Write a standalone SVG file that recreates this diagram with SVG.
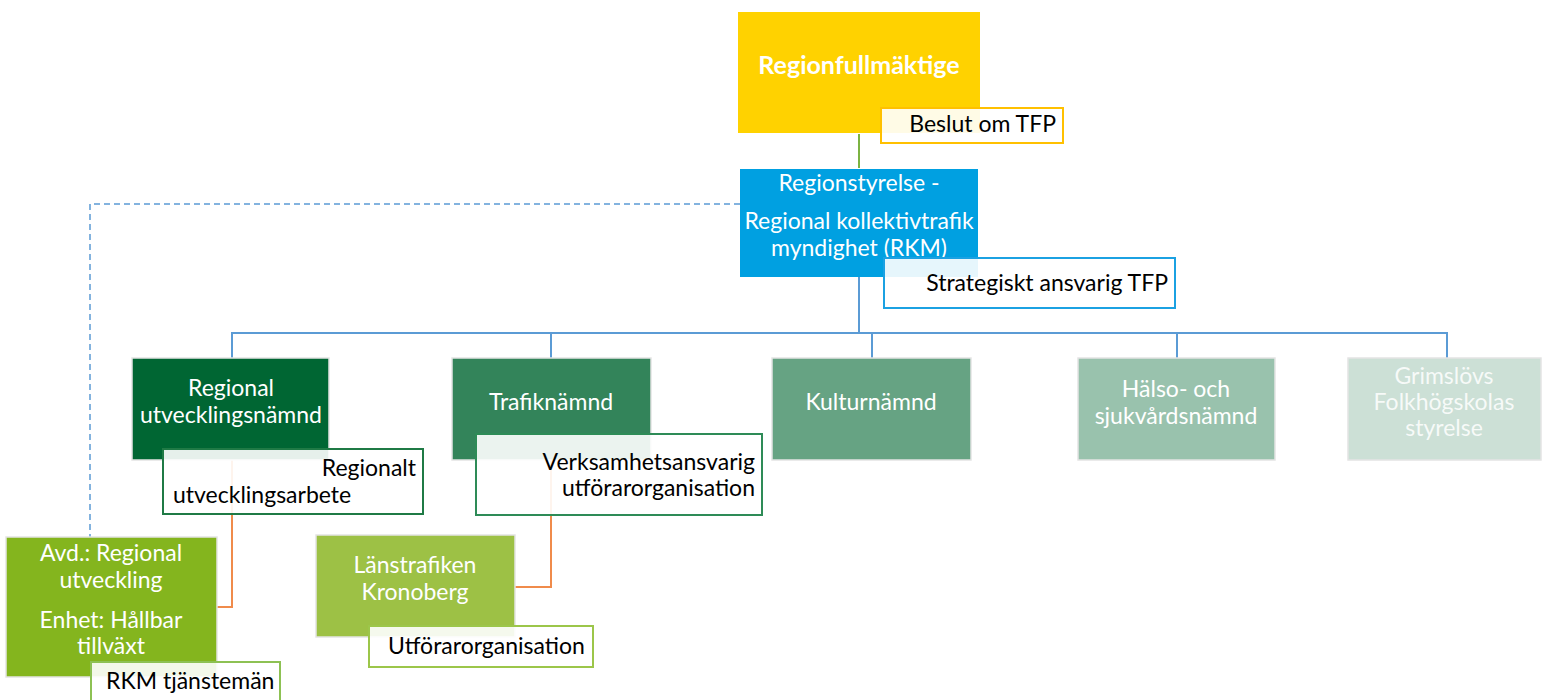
<svg xmlns="http://www.w3.org/2000/svg" width="1547" height="700" viewBox="0 0 1547 700">
<style>
text{font-family:Lato,"Open Sans","DejaVu Sans",sans-serif;font-size:23px}
.w{fill:#ffffff;text-anchor:middle}
.k{fill:#000000}
.r{text-anchor:end}
.node{stroke:#e4e4e4;stroke-width:1.5}
.sub{fill:#ffffff;fill-opacity:0.9;stroke-width:2}
.con{fill:none;stroke:#5b9bd5;stroke-width:2}
.or{fill:none;stroke:#f08b4b;stroke-width:2}
</style>
<rect width="1547" height="700" fill="#ffffff"/>
<g id="connectors">
<line x1="859" y1="134" x2="859" y2="168" stroke="#7cb342" stroke-width="2"/>
<path class="con" d="M859 277 V333 M232 358 V333 H1447 V358 M551 333 V358 M872 333 V358 M1177 333 V358"/>
<path d="M740 204 H90 V537" fill="none" stroke="#5b9bd5" stroke-width="1.5" stroke-dasharray="6 4"/>
<path class="or" d="M232 460 V607 H217"/>
<path class="or" d="M551 460 V587 H515"/>
</g>
<g id="regionfullmaktige">
<rect x="738" y="12" width="242" height="121" fill="#ffd200"/>
<text class="w" x="859" y="74" style="font-weight:bold;font-size:25px">Regionfullmäktige</text>
<rect class="sub" x="881" y="108" width="182" height="35" stroke="#ffc000"/>
<text class="k r" x="1056" y="132">Beslut om TFP</text>
</g>
<g id="regionstyrelse">
<rect x="740" y="169" width="238" height="108" fill="#00a0e1"/>
<text class="w" x="859" y="191">Regionstyrelse -</text>
<text class="w" x="859" y="229">Regional kollektivtrafik</text>
<text class="w" x="859" y="256">myndighet (RKM)</text>
<rect class="sub" x="884" y="258" width="291" height="50" stroke="#1ba1e2"/>
<text class="k r" x="1168" y="291">Strategiskt ansvarig TFP</text>
</g>
<g id="regional-utvecklingsnamnd">
<rect class="node" x="132" y="358" width="197" height="102" fill="#006633"/>
<text class="w" x="231" y="396">Regional</text>
<text class="w" x="231" y="423">utvecklingsnämnd</text>
<rect class="sub" x="163" y="449" width="260" height="65" stroke="#1f7a45"/>
<text class="k r" x="416" y="476">Regionalt</text>
<text class="k" x="173" y="503">utvecklingsarbete</text>
</g>
<g id="trafiknamnd">
<rect class="node" x="452" y="358" width="199" height="102" fill="#33845a"/>
<text class="w" x="551" y="410">Trafiknämnd</text>
<rect class="sub" x="476" y="434" width="286" height="81" stroke="#2e8b57"/>
<text class="k r" x="755" y="470">Verksamhetsansvarig</text>
<text class="k r" x="755" y="496">utförarorganisation</text>
</g>
<g id="kulturnamnd">
<rect class="node" x="772" y="358" width="199" height="102" fill="#66a383"/>
<text class="w" x="871" y="410">Kulturnämnd</text>
</g>
<g id="halso-sjukvardsnamnd">
<rect class="node" x="1078" y="358" width="197" height="102" fill="#99c2ad"/>
<text class="w" x="1176" y="397">Hälso- och</text>
<text class="w" x="1176" y="424">sjukvårdsnämnd</text>
</g>
<g id="grimslovs">
<rect class="node" x="1348" y="358" width="193" height="102" fill="#cce0d6"/>
<text class="w" x="1444" y="384" fill-opacity="0.85">Grimslövs</text>
<text class="w" x="1444" y="410" fill-opacity="0.85">Folkhögskolas</text>
<text class="w" x="1444" y="436" fill-opacity="0.85">styrelse</text>
</g>
<g id="avd-regional-utveckling">
<rect class="node" x="6" y="537" width="211" height="140" fill="#84b51e"/>
<text class="w" x="111" y="561">Avd.: Regional</text>
<text class="w" x="111" y="588">utveckling</text>
<text class="w" x="111" y="628">Enhet: Hållbar</text>
<text class="w" x="111" y="654">tillväxt</text>
<rect class="sub" x="91" y="662" width="189" height="44" stroke="#8dc153"/>
<text class="k" x="106" y="689">RKM tjänstemän</text>
</g>
<g id="lanstrafiken">
<rect class="node" x="316" y="535" width="199" height="102" fill="#9dc145"/>
<text class="w" x="415" y="573">Länstrafiken</text>
<text class="w" x="415" y="600">Kronoberg</text>
<rect class="sub" x="369" y="626" width="224" height="41" stroke="#9cc64a"/>
<text class="k" x="388" y="654">Utförarorganisation</text>
</g>
</svg>
